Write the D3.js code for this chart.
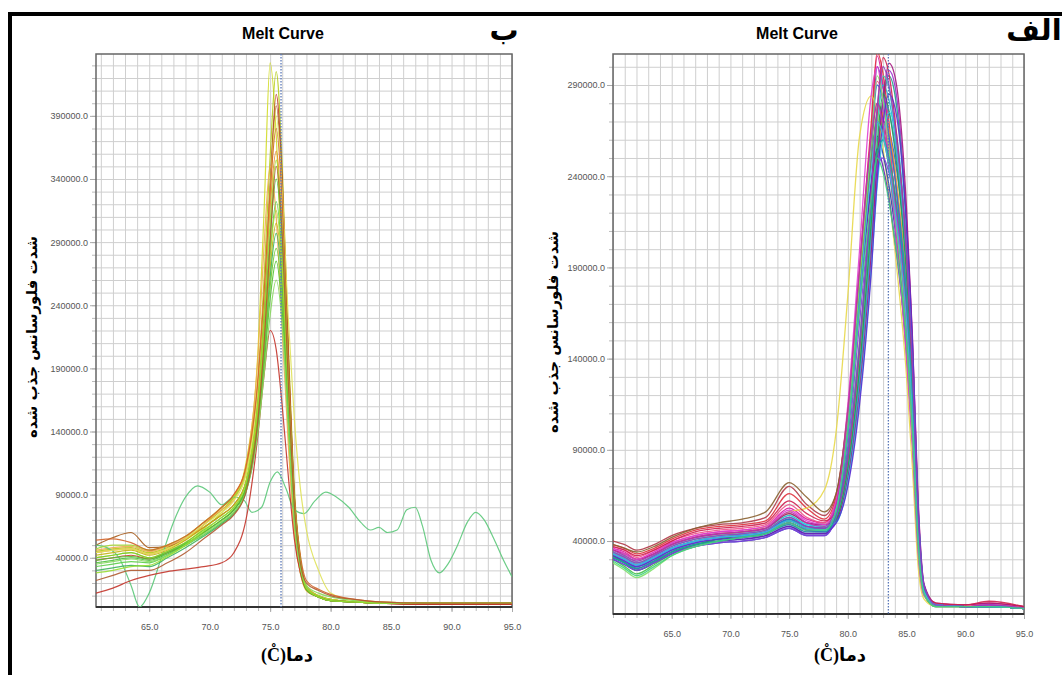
<!DOCTYPE html>
<html>
<head>
<meta charset="utf-8">
<script src="https://cdnjs.cloudflare.com/ajax/libs/d3/7.8.5/d3.min.js"></script>
<style>
  body { margin: 0; background: #fff; }
  svg { display: block; }
  .tick text { font-family: "Liberation Sans", Arial, sans-serif; font-size: 9px; fill: #555; }
</style>
</head>
<body>
<div id="container"></div>
<script>
// ---------- data (fluorescence in thousands) ----------

// panel ب (left)
var tempsB = [60.6, 62, 63.5, 65, 66.5, 68, 69.5, 71, 72, 73, 74, 74.5, 75, 75.5, 76, 76.5, 77, 77.5, 78, 79, 80, 82, 84, 88, 95];
var colorsB = ["#d2dc28", "#b4cc1c", "#bf3f2a", "#a85c1c", "#e8922c", "#f0ac50", "#4cbf3e", "#5ccf48", "#c4b414", "#3db35a",
  "#72cc30", "#a8d832", "#c3342a", "#54c232", "#e0e25a", "#d2642a", "#88d860", "#98de30", "#b05a30"];
var valuesB = [
  [40, 42, 44, 40, 45, 52, 63, 76, 88, 115, 205, 315, 432, 375, 255, 140, 62, 28, 14, 9, 7, 5, 4, 4, 4],
  [45, 47, 48, 44, 48, 55, 66, 78, 88, 108, 182, 262, 358, 425, 350, 210, 95, 40, 18, 10, 7, 5, 4, 4, 4],
  [38, 40, 42, 39, 44, 50, 60, 70, 78, 96, 160, 232, 330, 407, 340, 205, 90, 38, 16, 9, 6, 5, 4, 3, 3],
  [50, 56, 60, 48, 49, 55, 64, 74, 82, 100, 168, 240, 335, 398, 335, 200, 88, 38, 16, 9, 6, 5, 4, 3, 3],
  [44, 46, 47, 43, 47, 54, 66, 80, 90, 112, 180, 245, 318, 362, 300, 185, 85, 38, 17, 10, 7, 5, 4, 4, 4],
  [46, 48, 49, 45, 49, 56, 68, 78, 86, 112, 200, 288, 350, 310, 220, 130, 60, 28, 14, 9, 7, 5, 4, 4, 4],
  [36, 38, 40, 38, 43, 50, 60, 70, 78, 95, 158, 225, 295, 340, 290, 180, 82, 36, 16, 9, 6, 5, 4, 4, 4],
  [33, 35, 37, 36, 42, 50, 58, 68, 76, 93, 150, 212, 280, 322, 275, 170, 78, 34, 15, 9, 6, 5, 4, 4, 4],
  [42, 44, 46, 42, 46, 54, 64, 74, 82, 100, 155, 210, 270, 305, 262, 165, 76, 34, 15, 9, 6, 5, 4, 4, 4],
  [30, 32, 34, 33, 40, 48, 57, 67, 75, 92, 145, 200, 262, 297, 255, 160, 75, 34, 15, 9, 6, 5, 4, 4, 4],
  [40, 42, 44, 40, 45, 52, 62, 72, 80, 96, 148, 198, 255, 285, 245, 155, 72, 33, 15, 9, 6, 5, 4, 4, 4],
  [47, 50, 50, 46, 50, 57, 68, 80, 88, 106, 162, 220, 282, 315, 268, 168, 78, 35, 16, 10, 7, 5, 4, 4, 4],
  [12, 16, 22, 26, 29, 31, 33, 36, 44, 70, 138, 185, 220, 205, 160, 105, 55, 28, 15, 9, 6, 5, 4, 3, 3],
  [38, 40, 41, 39, 44, 51, 60, 70, 78, 95, 145, 192, 245, 275, 235, 150, 70, 32, 15, 9, 6, 5, 4, 4, 4],
  [44, 46, 47, 43, 47, 55, 66, 76, 85, 106, 176, 246, 330, 390, 330, 230, 150, 95, 62, 30, 12, 6, 5, 4, 4],
  [54, 55, 52, 46, 50, 57, 68, 80, 90, 112, 182, 250, 330, 380, 320, 195, 88, 42, 22, 15, 11, 7, 5, 4, 4],
  [35, 37, 39, 37, 42, 50, 59, 69, 76, 92, 140, 185, 232, 260, 225, 145, 68, 32, 18, 12, 9, 6, 4, 4, 4],
  [28, 30, 33, 34, 41, 50, 61, 72, 80, 100, 165, 230, 305, 355, 300, 185, 84, 37, 16, 9, 6, 5, 4, 4, 4],
  [22, 26, 30, 30, 36, 44, 55, 66, 74, 92, 150, 210, 290, 350, 295, 180, 82, 36, 20, 14, 10, 7, 5, 4, 4]
];
// the noisy green trace in panel ب
var noiseTemps = [60.6, 61.5, 62.5, 63.5, 64.2, 65, 66, 67, 68, 69, 70, 71, 72, 72.8, 73.5, 74.3, 75, 75.6, 76.3, 77, 77.8, 78.7,
  79.6, 80.5, 81.5, 82.5, 83.3, 84, 84.7, 85.5, 86.3, 87, 87.6, 88.3, 89, 89.7, 90.5, 91.3, 92, 92.7, 93.5, 94.3, 95];
var noiseValues = [50, 48, 40, 18, 1, 12, 40, 68, 88, 97, 92, 82, 88, 86, 76, 80, 100, 108, 95, 78, 75, 85,
  92, 88, 80, 68, 62, 64, 60, 62, 78, 80, 65, 38, 28, 35, 50, 68, 76, 70, 55, 38, 25];
var noiseColor = "#5cc87a";

// panel الف (right)
var tempsA = [60, 61, 62, 63.5, 65, 67, 69, 71, 73, 75, 76.5, 78, 79, 80, 81, 82, 82.5, 83, 83.5, 84, 85, 85.5, 86, 86.5, 87.5, 90, 92, 95];
var colorsA = ["#7b2cbf", "#d81b9a", "#9b30d0", "#3a56d8", "#22b8cf", "#1fa187", "#43c04a", "#a6d84a", "#e0303c", "#f0508a",
  "#b03a48", "#e8d84a", "#f09a30", "#2a3fa8", "#4a90e8", "#a4167e", "#3ed6b8", "#6a1fb0", "#22a050", "#2c6fe0",
  "#e040d0", "#8a6030", "#30d0e8", "#8040e0", "#7ee06a", "#d02050", "#5b2dd0", "#c030b0", "#18a8a0", "#3fb8e8",
  "#9040c0", "#40d080"];
var valuesA = [
  [33, 30, 27, 31, 36, 40, 42, 43, 45, 52, 47, 47, 60, 105, 180, 255, 300, 288, 262, 225, 150, 100, 38, 12, 5, 4, 4, 3],
  [36, 34, 30, 34, 39, 43, 45, 46, 48, 58, 52, 50, 62, 108, 185, 265, 306, 290, 262, 225, 145, 92, 34, 11, 5, 4, 5, 3],
  [32, 29, 26, 30, 35, 39, 41, 42, 44, 49, 45, 45, 50, 72, 120, 195, 240, 275, 298, 290, 215, 150, 58, 16, 5, 4, 4, 3],
  [31, 28, 25, 29, 34, 38, 40, 41, 43, 48, 44, 44, 52, 80, 135, 215, 250, 270, 265, 250, 190, 135, 52, 15, 5, 4, 4, 3],
  [35, 32, 29, 33, 38, 42, 44, 45, 47, 54, 49, 48, 54, 85, 145, 225, 268, 290, 282, 262, 192, 130, 48, 13, 5, 4, 4, 3],
  [34, 31, 28, 31, 36, 40, 42, 44, 46, 52, 48, 47, 51, 75, 128, 205, 250, 282, 295, 285, 210, 145, 55, 15, 5, 4, 4, 3],
  [30, 26, 22, 27, 33, 38, 40, 42, 44, 50, 46, 46, 58, 105, 180, 248, 275, 265, 245, 215, 140, 95, 32, 10, 4, 4, 4, 3],
  [33, 30, 26, 30, 35, 40, 43, 45, 47, 55, 50, 49, 56, 90, 150, 220, 250, 265, 258, 240, 178, 122, 46, 13, 5, 4, 4, 3],
  [38, 36, 33, 36, 41, 46, 48, 49, 51, 66, 58, 52, 64, 112, 190, 270, 308, 296, 270, 240, 168, 110, 40, 12, 5, 5, 6, 4],
  [37, 35, 31, 35, 40, 44, 46, 47, 49, 60, 53, 50, 62, 108, 185, 262, 292, 282, 258, 228, 155, 102, 38, 12, 5, 4, 6, 3],
  [40, 38, 35, 38, 43, 47, 49, 50, 53, 70, 60, 54, 66, 112, 188, 258, 280, 272, 252, 230, 168, 112, 42, 12, 5, 4, 5, 3],
  [35, 33, 30, 33, 38, 42, 44, 45, 48, 56, 58, 68, 100, 175, 262, 284, 275, 255, 230, 200, 130, 80, 25, 8, 4, 4, 4, 3],
  [34, 31, 28, 32, 37, 41, 43, 44, 46, 53, 48, 47, 54, 82, 140, 215, 252, 275, 265, 245, 178, 120, 45, 13, 5, 4, 4, 3],
  [30, 27, 24, 28, 33, 37, 39, 40, 42, 47, 43, 43, 54, 98, 170, 238, 262, 252, 235, 212, 150, 100, 38, 12, 5, 4, 4, 3],
  [32, 29, 26, 30, 35, 39, 41, 43, 45, 51, 47, 46, 52, 78, 130, 208, 250, 280, 275, 258, 190, 132, 50, 14, 5, 4, 4, 3],
  [35, 33, 30, 33, 38, 42, 44, 45, 47, 55, 50, 49, 52, 74, 122, 198, 248, 282, 302, 295, 222, 152, 60, 16, 6, 5, 6, 4],
  [33, 30, 27, 31, 36, 40, 42, 43, 45, 51, 47, 46, 53, 82, 140, 222, 268, 295, 288, 266, 196, 135, 50, 14, 5, 4, 4, 3],
  [31, 28, 25, 29, 34, 38, 40, 41, 43, 48, 44, 44, 55, 100, 172, 235, 255, 245, 228, 205, 145, 98, 36, 11, 4, 4, 4, 3],
  [32, 28, 24, 28, 34, 38, 41, 43, 45, 51, 47, 46, 52, 80, 135, 215, 258, 285, 276, 255, 185, 128, 47, 13, 5, 4, 4, 3],
  [33, 30, 27, 31, 36, 40, 42, 43, 45, 52, 48, 47, 58, 104, 180, 258, 290, 282, 262, 240, 175, 120, 45, 13, 5, 4, 4, 3],
  [36, 33, 30, 34, 39, 43, 45, 46, 48, 57, 51, 49, 62, 115, 200, 285, 300, 280, 250, 215, 140, 92, 32, 10, 5, 4, 5, 3],
  [38, 36, 34, 37, 42, 47, 50, 52, 56, 72, 64, 56, 66, 110, 182, 248, 270, 262, 245, 222, 162, 108, 40, 12, 5, 4, 4, 3],
  [34, 31, 28, 32, 37, 41, 43, 44, 46, 53, 49, 48, 50, 72, 118, 190, 235, 262, 275, 268, 202, 142, 55, 15, 5, 4, 4, 3],
  [30, 27, 24, 28, 33, 37, 39, 40, 42, 47, 43, 43, 53, 92, 160, 225, 245, 250, 242, 226, 170, 118, 45, 13, 5, 4, 4, 3],
  [28, 24, 20, 25, 32, 37, 40, 42, 44, 50, 46, 46, 58, 106, 182, 258, 295, 282, 255, 222, 150, 98, 35, 11, 4, 4, 4, 3],
  [37, 35, 32, 35, 40, 45, 47, 48, 50, 62, 55, 51, 56, 85, 145, 230, 275, 305, 296, 272, 198, 135, 50, 14, 6, 5, 7, 4],
  [32, 29, 26, 30, 35, 39, 41, 42, 44, 50, 46, 45, 50, 70, 115, 188, 238, 270, 285, 278, 212, 148, 56, 15, 5, 4, 4, 3],
  [35, 32, 29, 33, 38, 42, 44, 45, 47, 56, 50, 48, 60, 110, 190, 262, 280, 268, 248, 225, 160, 105, 38, 12, 5, 4, 5, 3],
  [31, 28, 25, 29, 34, 38, 40, 42, 44, 49, 45, 45, 54, 88, 148, 222, 252, 260, 250, 232, 172, 118, 45, 13, 5, 4, 4, 3],
  [33, 30, 27, 31, 36, 40, 42, 43, 45, 51, 47, 46, 57, 100, 172, 245, 270, 262, 245, 222, 160, 108, 40, 12, 5, 4, 4, 3],
  [34, 31, 28, 32, 37, 41, 43, 44, 46, 53, 48, 47, 55, 86, 148, 232, 278, 300, 290, 268, 198, 136, 52, 15, 5, 4, 5, 3],
  [29, 25, 21, 26, 32, 37, 40, 42, 44, 50, 46, 46, 56, 100, 168, 228, 250, 242, 226, 205, 150, 102, 38, 11, 4, 4, 4, 3]
];

// axis ticks and markers
var xTicks = [65, 70, 75, 80, 85, 90, 95];
var yTicksB = [40000, 90000, 140000, 190000, 240000, 290000, 340000, 390000];
var yTicksA = [40000, 90000, 140000, 190000, 240000, 290000];
var markerB = 75.9;
var markerA = 83.45;

var W = 1062;
var H = 675;

var svg = d3
  .select("#container")
  .append("svg")
  .attr("width", W)
  .attr("height", H);

// black frame on top and left
svg.append("rect").attr("x", 8).attr("y", 12).attr("width", W - 8).attr("height", 4).attr("fill", "#000");
svg.append("rect").attr("x", 8).attr("y", 12).attr("width", 4).attr("height", H - 12).attr("fill", "#000");

function drawPanel(p) {
  var x = d3.scaleLinear().domain(p.xDomain).range([p.left, p.right]);
  var y = d3.scaleLinear().domain(p.yDomain).range([p.bottom, p.top]);
  var g = svg.append("g");

  var xGrid = d3.range(Math.ceil(p.xDomain[0]), p.xDomain[1] + 0.001, 1);
  var yGrid = d3.range(10000, p.yDomain[1], 10000);

  // grid lines
  g.append("g")
    .attr("transform", "translate(0," + p.bottom + ")")
    .call(d3.axisBottom(x).tickValues(xGrid).tickSize(-(p.bottom - p.top)).tickFormat(""))
    .call((a) => a.select(".domain").remove())
    .selectAll("line").attr("stroke", "#cfcfcf");
  g.append("g")
    .attr("transform", "translate(" + p.left + ",0)")
    .call(d3.axisLeft(y).tickValues(yGrid).tickSize(-(p.right - p.left)).tickFormat(""))
    .call((a) => a.select(".domain").remove())
    .selectAll("line").attr("stroke", "#cfcfcf");

  // small outer ticks at every grid line
  g.append("g")
    .attr("transform", "translate(0," + p.bottom + ")")
    .call(d3.axisBottom(x).tickValues(xGrid).tickSize(4).tickFormat(""))
    .call((a) => a.select(".domain").remove())
    .selectAll("line").attr("stroke", "#bbb");
  g.append("g")
    .attr("transform", "translate(" + p.left + ",0)")
    .call(d3.axisLeft(y).tickValues(yGrid).tickSize(4).tickFormat(""))
    .call((a) => a.select(".domain").remove())
    .selectAll("line").attr("stroke", "#bbb");

  // labelled axes
  g.append("g")
    .attr("transform", "translate(0," + p.bottom + ")")
    .call(d3.axisBottom(x).tickValues(xTicks).tickSize(5).tickPadding(12).tickFormat(d3.format(".1f")))
    .call((a) => a.select(".domain").remove())
    .selectAll("line").attr("stroke", "#aaa");
  g.append("g")
    .attr("transform", "translate(" + p.left + ",0)")
    .call(d3.axisLeft(y).tickValues(p.yTicks).tickSize(6).tickPadding(2).tickFormat(d3.format(".1f")))
    .call((a) => a.select(".domain").remove())
    .selectAll("line").attr("stroke", "#aaa");

  // plot frame
  g.append("rect")
    .attr("x", p.left)
    .attr("y", p.top)
    .attr("width", p.right - p.left)
    .attr("height", p.bottom - p.top)
    .attr("fill", "none")
    .attr("stroke", "#666")
    .attr("stroke-width", 1.5);
  g.append("line")
    .attr("x1", p.left).attr("x2", p.right)
    .attr("y1", p.bottom).attr("y2", p.bottom)
    .attr("stroke", "#333").attr("stroke-width", 2);

  // clip for the traces
  svg.append("clipPath")
    .attr("id", "clip" + p.id)
    .append("rect")
    .attr("x", p.left)
    .attr("y", p.top)
    .attr("width", p.right - p.left)
    .attr("height", p.bottom - p.top);
  var traces = g.append("g").attr("clip-path", "url(#clip" + p.id + ")");

  p.series.forEach((s) => {
    var line = d3
      .line()
      .x((d, i) => x(s.temps[i]))
      .y((d) => y(d * 1000))
      .curve(d3.curveMonotoneX);
    traces
      .append("path")
      .attr("d", line(s.values))
      .attr("fill", "none")
      .attr("stroke", s.color)
      .attr("stroke-width", p.lineWidth)
      .attr("stroke-opacity", 0.9);
  });

  // dotted marker line
  traces
    .append("line")
    .attr("x1", x(p.marker)).attr("x2", x(p.marker))
    .attr("y1", p.top).attr("y2", p.bottom)
    .attr("stroke", "#5a78b8")
    .attr("stroke-width", 1.3)
    .attr("stroke-dasharray", "1.5,1.5");

  // texts
  svg.append("text")
    .attr("x", p.titleX).attr("y", 39)
    .attr("text-anchor", "middle")
    .style("font-family", "'Liberation Sans', Arial, sans-serif")
    .style("font-weight", "bold")
    .style("font-size", "16px")
    .text("Melt Curve");

  svg.append("text")
    .attr("x", p.letterX).attr("y", 40)
    .attr("text-anchor", "middle")
    .style("font-family", "'DejaVu Sans', sans-serif")
    .style("font-weight", "bold")
    .style("font-size", "29px")
    .text(p.letter);

  svg.append("text")
    .attr("transform", "translate(" + p.yLabelX + "," + p.yLabelY + ") rotate(-90)")
    .attr("text-anchor", "middle")
    .attr("dominant-baseline", "central")
    .style("font-family", "'DejaVu Sans', sans-serif")
    .style("font-weight", "bold")
    .style("font-size", "15px")
    .text("شدت فلورسانس جذب شده");

  svg.append("text")
    .attr("x", p.xLabelX).attr("y", 661)
    .attr("text-anchor", "middle")
    .style("font-family", "'Liberation Serif', 'DejaVu Sans', serif")
    .style("font-weight", "bold")
    .style("font-size", "18px")
    .text("(C\u030A)دما");
}

var seriesB = valuesB.map((v, i) => ({ temps: tempsB, values: v, color: colorsB[i] }));
seriesB.splice(6, 0, { temps: noiseTemps, values: noiseValues, color: noiseColor });

var seriesA = valuesA.map((v, i) => ({ temps: tempsA, values: v, color: colorsA[i] }));

drawPanel({
  id: "B",
  left: 96, right: 512, top: 54, bottom: 607,
  xDomain: [60.6, 95], yDomain: [1000, 439000],
  yTicks: yTicksB,
  series: seriesB,
  marker: markerB,
  lineWidth: 1.2,
  titleX: 283, letter: "ب", letterX: 504,
  yLabelX: 32, yLabelY: 337, xLabelX: 287
});

drawPanel({
  id: "A",
  left: 613, right: 1024, top: 54, bottom: 614,
  xDomain: [60, 95], yDomain: [0, 307000],
  yTicks: yTicksA,
  series: seriesA,
  marker: markerA,
  lineWidth: 1.3,
  titleX: 797, letter: "الف", letterX: 1034,
  yLabelX: 553, yLabelY: 332, xLabelX: 840
});
</script>
</body>
</html>
